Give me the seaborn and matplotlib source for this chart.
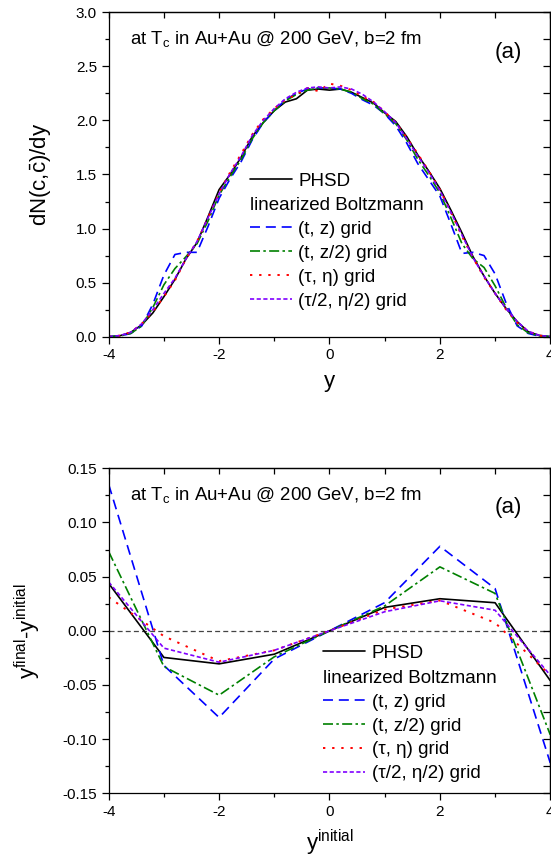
import numpy as np
import pandas as pd
import seaborn as sns
import matplotlib
matplotlib.use("Agg")
import matplotlib.pyplot as plt
from matplotlib.ticker import MultipleLocator, FormatStrFormatter

sns.set_style("ticks")
plt.rcParams['font.family'] = ['Liberation Sans', 'DejaVu Sans']
plt.rcParams['mathtext.fontset'] = 'custom'
plt.rcParams['mathtext.rm'] = 'Liberation Sans'
plt.rcParams['mathtext.it'] = 'Liberation Sans:italic'
plt.rcParams['axes.linewidth'] = 0.9
plt.rcParams['axes.unicode_minus'] = False
plt.rcParams['text.color'] = 'black'
plt.rcParams['axes.labelcolor'] = 'black'
plt.rcParams['xtick.color'] = 'black'
plt.rcParams['ytick.color'] = 'black'

# ---- top panel: dN/dy of c-cbar pairs ----
y_rap = [-4.0, -3.8, -3.6, -3.4, -3.2, -3.0, -2.8, -2.6, -2.4, -2.2, -2.0,
         -1.8, -1.6, -1.4, -1.2, -1.0, -0.8, -0.6, -0.4, -0.2, 0.0,
         0.2, 0.4, 0.6, 0.8, 1.0, 1.2, 1.4, 1.6, 1.8, 2.0,
         2.2, 2.4, 2.6, 2.8, 3.0, 3.2, 3.4, 3.6, 3.8, 4.0]

dndy_phsd = [0.00, 0.008, 0.04, 0.11, 0.22, 0.37, 0.53, 0.72, 0.87, 1.11, 1.36,
             1.50, 1.66, 1.85, 1.98, 2.09, 2.17, 2.20, 2.28, 2.29, 2.28,
             2.29, 2.26, 2.21, 2.16, 2.07, 1.99, 1.85, 1.68, 1.53, 1.37,
             1.17, 0.96, 0.74, 0.56, 0.40, 0.26, 0.14, 0.046, 0.012, 0.00]
dndy_tz = [0.00, 0.005, 0.03, 0.10, 0.30, 0.57, 0.76, 0.78, 0.78, 1.02, 1.28,
           1.46, 1.62, 1.82, 1.98, 2.09, 2.19, 2.25, 2.29, 2.30, 2.30,
           2.29, 2.25, 2.19, 2.14, 2.06, 1.95, 1.79, 1.60, 1.45, 1.30,
           1.04, 0.77, 0.78, 0.75, 0.58, 0.31, 0.10, 0.03, 0.005, 0.00]
dndy_tz2 = [0.00, 0.005, 0.03, 0.10, 0.27, 0.48, 0.63, 0.74, 0.86, 1.07, 1.31,
            1.48, 1.64, 1.83, 1.98, 2.09, 2.18, 2.24, 2.28, 2.30, 2.30,
            2.29, 2.26, 2.20, 2.15, 2.06, 1.97, 1.82, 1.64, 1.49, 1.33,
            1.10, 0.86, 0.72, 0.64, 0.47, 0.27, 0.11, 0.035, 0.008, 0.00]
dndy_taueta = [0.00, 0.01, 0.04, 0.12, 0.23, 0.37, 0.52, 0.72, 0.88, 1.10, 1.33,
               1.52, 1.69, 1.87, 2.01, 2.11, 2.19, 2.24, 2.30, 2.27, 2.34,
               2.32, 2.28, 2.22, 2.17, 2.08, 1.98, 1.84, 1.69, 1.53, 1.36,
               1.15, 0.93, 0.73, 0.55, 0.40, 0.25, 0.13, 0.05, 0.01, 0.00]
dndy_taueta2 = [0.00, 0.01, 0.04, 0.12, 0.25, 0.40, 0.54, 0.72, 0.88, 1.10, 1.32,
                1.51, 1.67, 1.86, 2.00, 2.11, 2.20, 2.26, 2.30, 2.31, 2.30,
                2.31, 2.29, 2.24, 2.17, 2.08, 1.98, 1.83, 1.67, 1.52, 1.35,
                1.15, 0.94, 0.73, 0.56, 0.40, 0.26, 0.14, 0.05, 0.012, 0.00]

# ---- bottom panel: rapidity shift ----
y_init = [-4, -3, -2, -1, 0, 1, 2, 3, 4]
dy_phsd = [0.0437, -0.0246, -0.0305, -0.0216, 0.0, 0.0216, 0.0296, 0.0259, -0.046]
dy_tz = [0.135, -0.032, -0.080, -0.026, 0.0, 0.026, 0.078, 0.039, -0.122]
dy_tz2 = [0.073, -0.033, -0.0594, -0.024, 0.0, 0.023, 0.059, 0.0345, -0.096]
dy_taueta = [0.031, -0.005, -0.028, -0.018, 0.0, 0.0197, 0.028, 0.0074, -0.041]
dy_taueta2 = [0.045, -0.016, -0.029, -0.018, 0.0, 0.0176, 0.0277, 0.019, -0.041]

labels = ['PHSD', '(t, z) grid', '(t, z/2) grid', '(τ, η) grid', '(τ/2, η/2) grid']
colors = ['black', '#0000ff', '#008000', '#ff0000', '#8000ff']
styles = ['-', (0, (6, 3.5)), (0, (6, 2, 1.5, 2)), (0, (1.2, 3.5)), (0, (2.5, 1.5))]
widths = [1.2, 1.2, 1.2, 1.4, 1.2]

fig = plt.figure(figsize=(5.51, 8.58), dpi=100)
ax1 = fig.add_axes([0.1973, 0.6076, 0.8014, 0.3781])
ax2 = fig.add_axes([0.1973, 0.0754, 0.8014, 0.3788])


def draw(ax, x, series):
    for ys, lab, c, ls, lw in zip(series, labels, colors, styles, widths):
        sns.lineplot(x=x, y=ys, ax=ax, color=c, linestyle=ls, linewidth=lw,
                     label=lab, errorbar=None, legend=False)


def style_axes(ax, ymaj, ymin):
    ax.set_xlim(-4, 4)
    ax.xaxis.set_major_locator(MultipleLocator(2))
    ax.xaxis.set_minor_locator(MultipleLocator(1))
    ax.yaxis.set_major_locator(MultipleLocator(ymaj))
    ax.yaxis.set_minor_locator(MultipleLocator(ymin))
    ax.tick_params(which='major', direction='out', length=5, width=0.9,
                   labelsize=11)
    ax.tick_params(which='minor', direction='out', length=3, width=0.9)
    for sp in ax.spines.values():
        sp.set_visible(True)
        sp.set_color('black')
    top = ax.secondary_xaxis('top')
    top.xaxis.set_major_locator(MultipleLocator(1))
    top.tick_params(direction='in', length=4, width=0.9, labeltop=False)
    right = ax.secondary_yaxis('right')
    right.yaxis.set_major_locator(MultipleLocator(ymin))
    right.tick_params(direction='in', length=5, width=0.9, labelright=False)


def add_legend(ax, xh, yphsd, ytitle):
    h = ax.get_lines()[:5]
    leg1 = ax.legend([h[0]], [labels[0]], loc='center left',
                     bbox_to_anchor=(xh, yphsd), frameon=False, fontsize=13.5,
                     handlelength=2.25, handletextpad=0.35, borderpad=0,
                     borderaxespad=0)
    ax.add_artist(leg1)
    ax.legend(h[1:], labels[1:], loc='upper left', bbox_to_anchor=(xh, ytitle),
              frameon=False, fontsize=13.5, title='linearized Boltzmann',
              title_fontsize=13.5, alignment='left', handlelength=2.25,
              handletextpad=0.35, labelspacing=0.36, borderpad=0,
              borderaxespad=0)


draw(ax1, y_rap, [dndy_phsd, dndy_tz, dndy_tz2, dndy_taueta, dndy_taueta2])
style_axes(ax1, 0.5, 0.25)
ax1.set_ylim(0, 3.0)
ax1.yaxis.set_major_formatter(FormatStrFormatter('%.1f'))
ax1.set_xlabel('y', fontsize=16, labelpad=6)
ax1.set_ylabel(r'dN(c,$\bar{\rm c}$)/dy', fontsize=16)
ax1.yaxis.set_label_coords(-0.125, 0.5)
ax1.text(0.048, 0.917, r'at T$_{\rm c}$ in Au+Au @ 200 GeV, b=2 fm',
         transform=ax1.transAxes, fontsize=13.4, va='center', ha='left')
ax1.text(0.905, 0.875, '(a)', transform=ax1.transAxes, fontsize=16,
         va='center', ha='center')
add_legend(ax1, 0.319, 0.48, 0.43)

draw(ax2, y_init, [dy_phsd, dy_tz, dy_tz2, dy_taueta, dy_taueta2])
ax2.axhline(0, color='#444444', linestyle=(0, (4, 2.5)), linewidth=0.9, zorder=0)
style_axes(ax2, 0.05, 0.025)
ax2.set_ylim(-0.15, 0.15)
ax2.yaxis.set_major_formatter(FormatStrFormatter('%.2f'))
ax2.set_xlabel(r'y$^{\rm initial}$', fontsize=16, labelpad=6)
ax2.set_ylabel(r'y$^{\rm final}$-y$^{\rm initial}$', fontsize=16)
ax2.yaxis.set_label_coords(-0.148, 0.5)
ax2.text(0.048, 0.918, r'at T$_{\rm c}$ in Au+Au @ 200 GeV, b=2 fm',
         transform=ax2.transAxes, fontsize=13.4, va='center', ha='left')
ax2.text(0.905, 0.878, '(a)', transform=ax2.transAxes, fontsize=16,
         va='center', ha='center')
add_legend(ax2, 0.485, 0.431, 0.38)

fig.savefig('out.png', dpi=100)
